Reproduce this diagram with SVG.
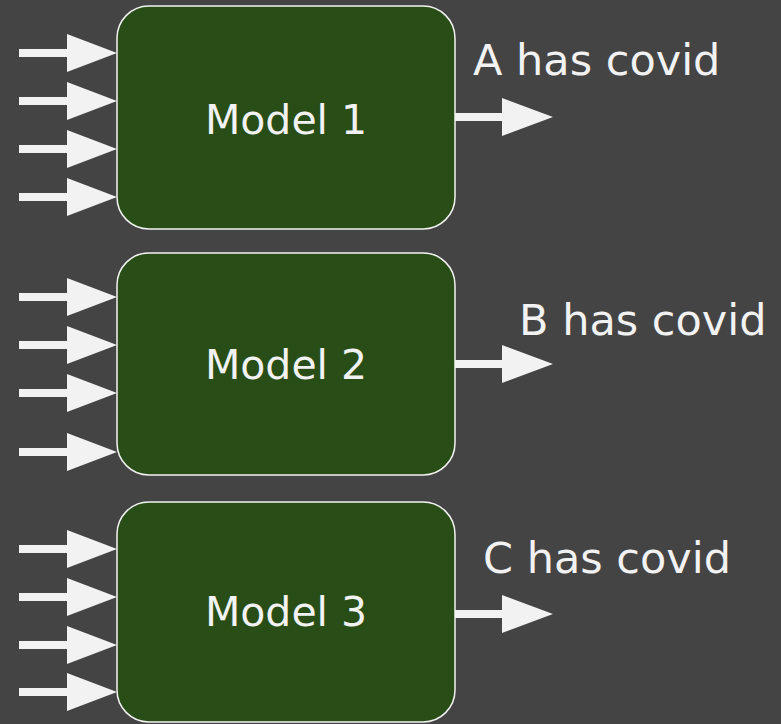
<svg xmlns="http://www.w3.org/2000/svg" xmlns:xlink="http://www.w3.org/1999/xlink" width="781" height="724" viewBox="0 0 781 724">
<style>
.bg{fill:#444444}
.box{fill:#284d16;stroke:#f2f2f2;stroke-width:1.5}
.arr{fill:#f2f2f2}
text{font-family:"DejaVu Sans","Liberation Sans",sans-serif;fill:#f2f2f2}
.lbl{font-size:41px;text-anchor:middle;dominant-baseline:central}
.out{font-size:43px}
</style>
<defs>
<path id="ain" d="M19,-4 H67 V-19 L117,0 L67,19 V4 H19 Z"/>
<path id="aout" d="M455,-4 H502 V-19 L553,0 L502,19 V4 H455 Z"/>
</defs>
<rect class="bg" x="0" y="0" width="781" height="724"/>
<g id="connectors" class="arr">
<use xlink:href="#ain" y="53"/>
<use xlink:href="#ain" y="101"/>
<use xlink:href="#ain" y="149"/>
<use xlink:href="#ain" y="197"/>
<use xlink:href="#aout" y="117"/>
<use xlink:href="#ain" y="297"/>
<use xlink:href="#ain" y="345"/>
<use xlink:href="#ain" y="393"/>
<use xlink:href="#ain" y="452"/>
<use xlink:href="#aout" y="364"/>
<use xlink:href="#ain" y="549"/>
<use xlink:href="#ain" y="597"/>
<use xlink:href="#ain" y="645"/>
<use xlink:href="#ain" y="692"/>
<use xlink:href="#aout" y="614"/>
</g>
<g id="model1">
<rect class="box" x="117" y="6" width="338" height="223" rx="32"/>
<text class="lbl" x="286" y="120">Model 1</text>
</g>
<g id="model2">
<rect class="box" x="117" y="253" width="338" height="222" rx="32"/>
<text class="lbl" x="286" y="365">Model 2</text>
</g>
<g id="model3">
<rect class="box" x="117" y="502" width="338" height="220" rx="32"/>
<text class="lbl" x="286" y="612">Model 3</text>
</g>
<g id="labelA"><text class="out" x="473" y="75">A has covid</text></g>
<g id="labelB"><text class="out" x="519" y="335">B has covid</text></g>
<g id="labelC"><text class="out" x="483" y="573">C has covid</text></g>
</svg>
